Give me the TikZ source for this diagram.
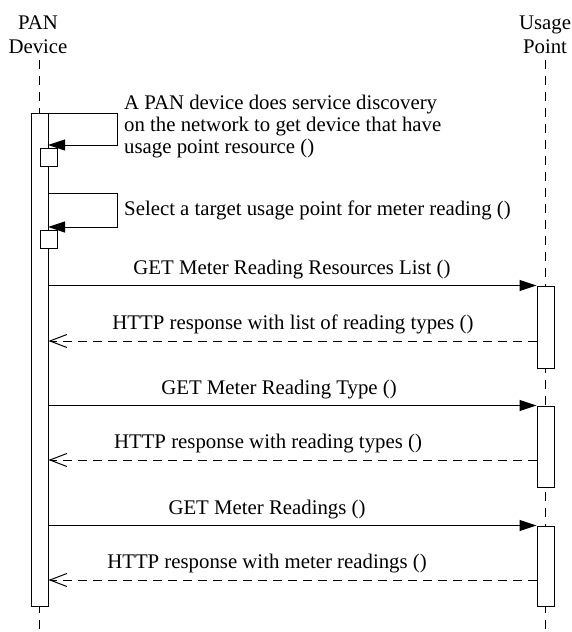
\documentclass[tikz,border=0pt]{standalone}
\usepackage{fontspec}
\setmainfont{Liberation Serif}
\usetikzlibrary{arrows.meta}
\begin{document}
\begin{tikzpicture}[x=1pt,y=-1pt,
  every node/.style={font=\fontsize{20.8}{22}\selectfont, inner sep=0pt},
  head/.style={align=center, font=\fontsize{20.8}{24}\selectfont},
  bar/.style={draw, fill=white, line width=1pt, minimum width=17pt, rectangle},
  life/.style={line width=1pt, dash pattern=on 9pt off 7pt},
  call/.style={line width=1pt, -{Triangle[length=17pt,width=11pt]}},
  reply/.style={line width=1pt, dash pattern=on 9pt off 6pt, -{Straight Barb[length=17pt,width=13pt,line width=1pt]}},
  lbl/.style={anchor=center}
]
\useasboundingbox (0,0) rectangle (572,632);
% headers
\node[head] (pan) at (38,35) {PAN\\Device};
\node[head] (up) at (545,35) {Usage\\Point};
\coordinate (panbot) at (39.5,632);
\coordinate (upbot) at (545.5,632);
\draw[life] (pan.south -| panbot) ++(0,6) -- (panbot);
\draw[life] (up.south -| upbot) ++(0,6) -- (upbot);
% activation bars
\node[bar, minimum height=493pt] (panbar) at (39.5,359.5) {};
\node[bar, minimum height=18pt] (sb1) at (48.5,157) {};
\node[bar, minimum height=18pt] (sb2) at (48.5,239) {};
\node[bar, minimum height=82pt] (ub1) at (545.5,327) {};
\node[bar, minimum height=81pt] (ub2) at (545.5,446.5) {};
\node[bar, minimum height=80pt] (ub3) at (545.5,566) {};
% self calls
\coordinate (c1a) at (48,113);
\coordinate (c1b) at (117,113);
\coordinate (c1c) at (117,145);
\coordinate (c1d) at (48,145);
\draw[call] (c1a) -- (c1b) -- (c1c) -- (c1d);
\node[anchor=west, align=left] (t1) at (124,127) {A PAN device does service discovery\\on the network to get device that have\\usage point resource ()};
\coordinate (c2a) at (48,193);
\coordinate (c2b) at (117,193);
\coordinate (c2c) at (117,227);
\coordinate (c2d) at (48,227);
\draw[call] (c2a) -- (c2b) -- (c2c) -- (c2d);
\node[anchor=west] (t2) at (124,210) {Select a target usage point for meter reading ()};
% messages
\draw[call] (panbar.east |- ub1.north) -- (ub1.north west);
\node[lbl] (m1) at (292,270) {GET Meter Reading Resources List ()};
\coordinate (r1) at (ub1.west |- 0,341);
\draw[reply] (r1) -- (panbar.east |- r1);
\node[lbl] (m2) at (293,324) {HTTP response with list of reading types ()};
\draw[call] (panbar.east |- ub2.north) -- (ub2.north west);
\node[lbl] (m3) at (279,390) {GET Meter Reading Type ()};
\coordinate (r2) at (ub2.west |- 0,460);
\draw[reply] (r2) -- (panbar.east |- r2);
\node[lbl] (m4) at (268,444) {HTTP response with reading types ()};
\draw[call] (panbar.east |- ub3.north) -- (ub3.north west);
\node[lbl] (m5) at (267,510) {GET Meter Readings ()};
\coordinate (r3) at (ub3.west |- 0,580);
\draw[reply] (r3) -- (panbar.east |- r3);
\node[lbl] (m6) at (267,564) {HTTP response with meter readings ()};
\end{tikzpicture}
\end{document}
